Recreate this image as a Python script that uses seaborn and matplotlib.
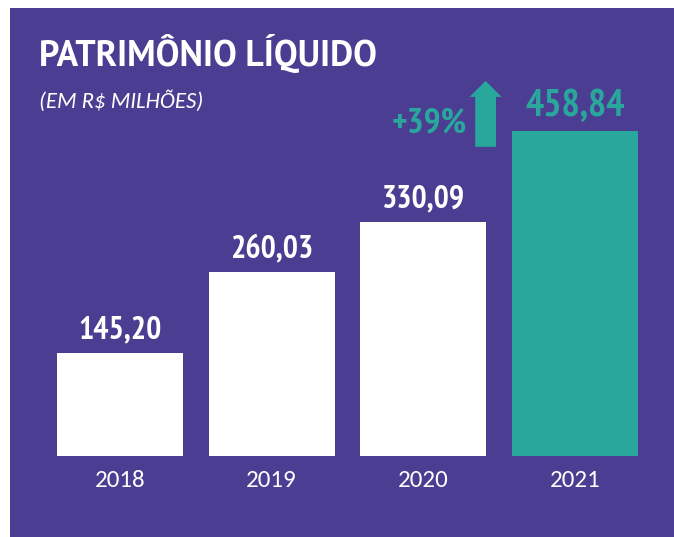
import matplotlib
matplotlib.use("Agg")
import matplotlib.pyplot as plt
from matplotlib.patches import Rectangle
import seaborn as sns
import pandas as pd

years = ["2018", "2019", "2020", "2021"]
values = [145.20, 260.03, 330.09, 458.84]
value_labels = ["145,20", "260,03", "330,09", "458,84"]
title = "PATRIMÔNIO LÍQUIDO"
subtitle = "(EM R$ MILHÕES)"
growth_label = "+39%"

PURPLE = "#4B3E92"
TEAL = "#29A79C"
NARROW = ["PT Sans Narrow", "DejaVu Sans"]
PTS = ["PT Sans", "DejaVu Sans"]
CAL = ["Carlito", "DejaVu Sans"]

df = pd.DataFrame({"year": years, "value": values})
colors = {y: ("white" if y != years[-1] else TEAL) for y in years}

sns.set_style("white")
fig = plt.figure(figsize=(6.74, 5.37), dpi=100, facecolor="white")
fig.patches.append(Rectangle((10 / 674, 0), 1 - 10 / 674, 1 - 8 / 537,
                             transform=fig.transFigure, facecolor=PURPLE,
                             edgecolor="none", zorder=-10))

ax = fig.add_axes([44 / 674, 81 / 537, 607 / 674, 396 / 537])
ax.set_facecolor("none")
sns.barplot(df, x="year", y="value", hue="year", palette=colors,
            width=0.83, saturation=1, legend=False, linewidth=0, ax=ax)
ax.set_xlim(-0.5, 3.5)
ax.set_ylim(0, 558.5)
for s in ax.spines.values():
    s.set_visible(False)
ax.set_yticks([])
ax.set_xlabel("")
ax.set_ylabel("")
ax.tick_params(axis="x", length=0, pad=10, colors="white", labelsize=18)
for lab in ax.get_xticklabels():
    lab.set_fontfamily(CAL)

for i, (v, lbl) in enumerate(zip(values, value_labels)):
    last = i == len(values) - 1
    ax.text(i, v + 20, lbl, ha="center", va="baseline",
            fontsize=27.5 if last else 23,
            fontweight="bold", family=NARROW,
            color=TEAL if last else "white")

# growth arrow and label
ax.annotate("", xy=(2.41, 529), xytext=(2.41, 436),
            arrowprops=dict(arrowstyle="simple,head_length=1.15,head_width=2.3,tail_width=1.5",
                            mutation_scale=10, color=TEAL, shrinkA=0, shrinkB=0, lw=0))
ax.text(2.285, 456, growth_label, ha="right", va="baseline", fontsize=25.5,
        fontweight="bold", family=NARROW, color=TEAL)

fig.text(39 / 674, 1 - 66 / 537, title, ha="left", va="baseline", fontsize=25.7,
         fontweight="bold", family=PTS, color="white")
fig.text(39 / 674, 1 - 108 / 537, subtitle, ha="left", va="baseline", fontsize=16.5,
         style="italic", family=CAL, color="white")

fig.savefig("out.png", dpi=100, facecolor=fig.get_facecolor())
